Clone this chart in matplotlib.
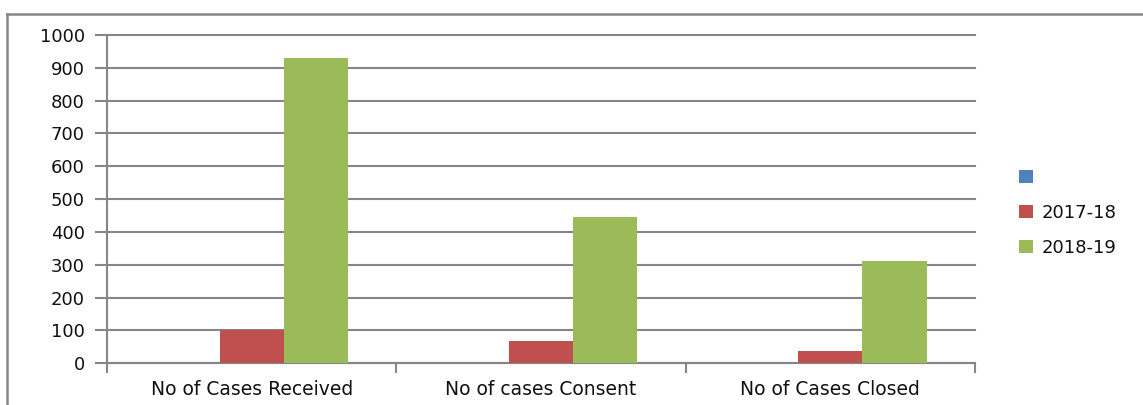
import matplotlib
matplotlib.use("Agg")
import matplotlib.pyplot as plt
from matplotlib.patches import Patch
import numpy as np

categories = ["No of Cases Received", "No of cases Consent", "No of Cases Closed"]
series_names = [" ", "2017-18", "2018-19"]
series_blank = [0, 0, 0]
series_2017 = [101, 68, 38]
series_2018 = [929, 445, 313]
colors = ["#4F81BD", "#C0504D", "#9BBB59"]

plt.rcParams['font.family'] = ['DejaVu Sans']

W, H = 1143, 405
fig = plt.figure(figsize=(W / 100, H / 100), dpi=100)

# outer chart border (top and left visible)
fig.add_artist(plt.Line2D([7 / W, 1.0], [1 - 14 / H, 1 - 14 / H], color="#868686", lw=1.8, transform=fig.transFigure))
fig.add_artist(plt.Line2D([7 / W, 7 / W], [0, 1 - 14 / H], color="#868686", lw=1.8, transform=fig.transFigure))

left, right = 107, 975
top, bottom = 35, 363.3
ax = fig.add_axes([left / W, 1 - bottom / H, (right - left) / W, (bottom - top) / H])

x = np.arange(len(categories))
bw = 0.222
data = [series_blank, series_2017, series_2018]
for i, (vals, c) in enumerate(zip(data, colors)):
    ax.bar(x + (i - 1) * bw, vals, width=bw, color=c, zorder=3)

ax.set_xlim(-0.5, len(categories) - 0.5)
ax.set_ylim(0, 1000)
ax.set_yticks(np.arange(0, 1001, 100))
ax.yaxis.grid(True, color="#868686", lw=1.5, zorder=0)
for gl in ax.get_ygridlines():
    gl.set_clip_on(False)
ax.set_axisbelow(True)

for s in ["top", "right"]:
    ax.spines[s].set_visible(False)
for s in ["left", "bottom"]:
    ax.spines[s].set_color("#868686")
    ax.spines[s].set_linewidth(1.5)

ax.tick_params(axis="y", direction="out", length=9, width=1.5, color="#868686", labelsize=13, pad=7)
ax.set_xticks(np.arange(-0.5, len(categories), 1.0))
ax.set_xticklabels([])
ax.tick_params(axis="x", direction="out", length=7, width=1.5, color="#868686")
for xi, lab in zip(x, categories):
    ax.text(xi, -0.052, lab, transform=ax.get_xaxis_transform(), ha="center", va="top", fontsize=13.5, color="#111111")
for t in ax.get_yticklabels():
    t.set_color("#111111")

handles = [Patch(facecolor=c, edgecolor="none") for c in colors]
fig.legend(handles, series_names, loc="center left", bbox_to_anchor=(1003 / W, 1 - 213 / H),
           frameon=False, fontsize=13, handlelength=0.75, handleheight=0.75, handletextpad=0.5,
           labelspacing=0.95, labelcolor="#111111")

fig.savefig("out.png", dpi=100)
